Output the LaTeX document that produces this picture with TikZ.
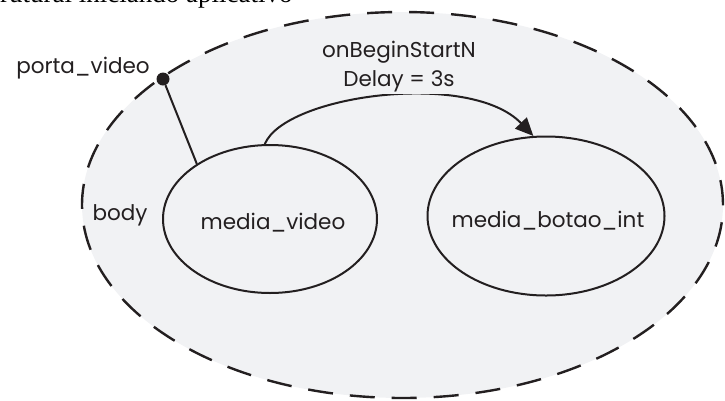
\documentclass[tikz,border=0pt]{standalone}
\usepackage{fontspec}
\setmainfont{Liberation Serif}
\newfontfamily\gothicfont{Poppins}
\usetikzlibrary{shapes.geometric,arrows.meta}
\definecolor{bodyfill}{RGB}{241,242,244}
\definecolor{ink}{RGB}{35,31,32}
\begin{document}
\begin{tikzpicture}[x=1pt,y=-1pt,
  gothic/.style={font=\gothicfont\fontsize{21.5}{29}\selectfont, text=ink},
  context/.style={ellipse, draw=ink, fill=bodyfill, line width=2.4pt,
    dash pattern=on 25pt off 17pt, inner sep=0pt},
  media/.style={ellipse, draw=ink, line width=2pt, inner sep=0pt, gothic},
  link/.style={draw=ink, line width=2pt},
  caption/.style={font=\rmfamily\fontsize{27}{31}\selectfont, text=black}]
\useasboundingbox (0,0) rectangle (725,400);
\begin{scope}
  \clip (0,0) rectangle (725,400);
  % heading line, only its lower part lies inside the page
  \node[caption, anchor=base west, inner sep=0pt] (title) at (0,2.5) {rutural iniciando aplicativo};
  % context body
  \node[context, minimum width=641pt, minimum height=386pt] (body) at (402.5,205) {};
\end{scope}
\node[gothic, anchor=base, inner sep=0pt] (bodylbl) at (120,220) {body};

% media nodes
\node[media, minimum width=214pt, minimum height=148pt] (mv) at (270,219) {};
\node[gothic, anchor=base, inner sep=0pt] (mvlbl) at (273,229) {media\_video};
\node[media, minimum width=237pt, minimum height=159pt] (mb) at (546,216) {};
\node[gothic, anchor=base, inner sep=0pt] (mblbl) at (548,227) {media\_botao\_int};

% port
\node[circle, fill=ink, inner sep=0pt, minimum size=13pt] (port) at (163,79) {};
\node[gothic, anchor=base, inner sep=0pt] (portlbl) at (83,73) {porta\_video};
\draw[link] (port) -- (mv.143);

% link with delay
\draw[link, -{Triangle[length=18pt,width=16pt]}]
  (mv.94) .. controls (285,95) and (470,70) .. (mb.99);
\node[gothic, align=center, fill=bodyfill, inner sep=2pt, anchor=base] (cond) at (399,86)
  {onBeginStartN\\Delay = 3s};
\end{tikzpicture}
\end{document}
